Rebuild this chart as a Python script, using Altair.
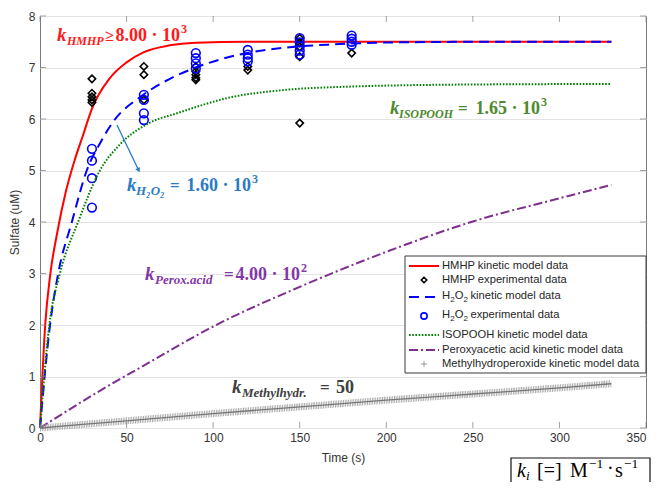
import altair as alt
import pandas as pd

# ---------------- data ----------------
x_ticks = [0, 50, 100, 150, 200, 250, 300, 350]
y_ticks = [0, 1, 2, 3, 4, 5, 6, 7, 8]

hmhp_model_t = [0, 3, 6, 10, 15, 20, 25, 30, 40, 50, 60, 75, 90, 120, 200, 330]
hmhp_model_y = [0, 2.0, 3.0, 3.8, 4.6, 5.2, 5.7, 6.2, 6.78, 7.1, 7.3, 7.43, 7.48, 7.5, 7.5, 7.5]

hmhp_exp_t = [30, 30, 30, 30, 30, 60, 60, 60, 90, 90, 90, 90, 90, 120, 120,
              150, 150, 150, 150, 150, 180]
hmhp_exp_y = [6.78, 6.50, 6.43, 6.37, 6.32, 7.02, 6.86, 6.37, 7.02, 6.92, 6.86, 6.80, 6.76,
              7.02, 6.95, 7.57, 7.48, 7.40, 7.21, 5.92, 7.28]

h2o2_model_t = [0, 5.8, 10.5, 18.4, 27, 35, 43, 58, 75, 90, 115, 140, 170, 210, 260, 330]
h2o2_model_y = [0, 2.0, 3.0, 4.0, 5.0, 5.55, 5.98, 6.43, 6.78, 7.0, 7.25, 7.38, 7.45, 7.49, 7.5, 7.5]

h2o2_exp_t = [30, 30, 30, 30, 60, 60, 60, 60, 90, 90, 90, 90, 120, 120, 120, 120,
              150, 150, 150, 150, 150, 180, 180, 180, 180]
h2o2_exp_y = [5.42, 5.19, 4.85, 4.28, 6.47, 6.37, 6.11, 5.98, 7.28, 7.18, 7.08, 6.98,
              7.34, 7.25, 7.18, 7.12, 7.57, 7.49, 7.41, 7.33, 7.25, 7.62, 7.56, 7.50, 7.44]

isopooh_model_t = [0, 5.4, 11.5, 22, 34.6, 46, 63, 80, 110, 140, 180, 250, 330]
isopooh_model_y = [0, 2.0, 3.0, 4.0, 5.0, 5.5, 5.92, 6.12, 6.42, 6.56, 6.63, 6.67, 6.68]

perox_model_t = [0, 32, 64, 100, 150, 200, 250, 300, 330]
perox_model_y = [0, 0.67, 1.29, 1.97, 2.74, 3.42, 4.01, 4.46, 4.72]

methyl_model_t = [0, 50, 100, 150, 200, 250, 300, 330]
methyl_model_y = [0, 0.14, 0.28, 0.41, 0.54, 0.66, 0.78, 0.86]

legend_labels = ["HMHP kinetic model data", "HMHP experimental data",
                 "kinetic model data", "experimental data",
                 "ISOPOOH kinetic model data", "Peroxyacetic acid kinetic model data",
                 "Methylhydroperoxide kinetic model data"]

# ---------------- layout ----------------
W, H = 606, 412
X0, Y0 = 40, 16           # page position of the plot area


def vx(px):
    return px - X0


def vy(py):
    return py - Y0


FRAME = "#7a7a7a"
TXT = "#333333"
SANS = "Liberation Sans"
SERIF = "Liberation Serif"

xs = alt.Scale(domain=[0, 350], nice=False, zero=False)
ys = alt.Scale(domain=[0, 8], nice=False, zero=False)

x_axis = alt.Axis(values=x_ticks, ticks=False, domain=False, grid=False,
                  labelFont=SANS, labelFontSize=12, labelColor=TXT, labelPadding=4,
                  labelFlush=False,
                  labelAlign=alt.ExprRef("datum.value == 350 ? 'right' : 'center'"),
                  title="Time (s)", titleFont=SANS, titleFontSize=12,
                  titleFontWeight="normal", titleColor=TXT, titlePadding=9)
y_axis = alt.Axis(values=y_ticks, ticks=False, domain=False, grid=True,
                  gridColor="#e4e4e4", gridWidth=1,
                  labelFont=SANS, labelFontSize=12, labelColor=TXT, labelPadding=5,
                  labelFlush=False, title="Sulfate (uM)", titleFont=SANS, titleFontSize=12,
                  titleFontWeight="normal", titleColor=TXT, titlePadding=7)


def X(f):
    return alt.X(f, type="quantitative", scale=xs, axis=x_axis)


def Y(f):
    return alt.Y(f, type="quantitative", scale=ys, axis=y_axis)


def line_layer(t, y, color, width=2.0, dash=None):
    df = pd.DataFrame({"t": t, "y": y})
    kw = dict(color=color, strokeWidth=width, interpolate="monotone")
    if dash is not None:
        kw["strokeDash"] = dash
    return alt.Chart(df).mark_line(**kw).encode(x=X("t"), y=Y("y"), order="t:Q")


def point_layer(t, y, color, shape, size):
    df = pd.DataFrame({"t": t, "y": y})
    return alt.Chart(df).mark_point(shape=shape, filled=False, color=color, size=size,
                                    strokeWidth=1.6, opacity=1).encode(x=X("t"), y=Y("y"))


one = pd.DataFrame({"d": [0]})


def txt(s, px, py, size, color, italic=False, bold=True, font=SERIF, baseline="alphabetic",
        align="left"):
    return alt.Chart(one).mark_text(
        text=s, font=font, fontSize=size, fontWeight="bold" if bold else "normal",
        fontStyle="italic" if italic else "normal", color=color, align=align,
        baseline=baseline).encode(x=alt.value(vx(px)), y=alt.value(vy(py)))


def seg(px1, py1, px2, py2, color, width=1.0, dash=None):
    kw = dict(color=color, strokeWidth=width)
    if dash is not None:
        kw["strokeDash"] = dash
    return alt.Chart(one).mark_rule(**kw).encode(
        x=alt.value(vx(px1)), y=alt.value(vy(py1)), x2=alt.value(vx(px2)), y2=alt.value(vy(py2)))


def sym(px, py, shape, color, size, filled=False, angle=0, sw=1.6):
    kw = dict(shape=shape, color=color, size=size, filled=filled, strokeWidth=sw, opacity=1)
    if angle:
        kw["angle"] = angle
    return alt.Chart(one).mark_point(**kw).encode(x=alt.value(vx(px)), y=alt.value(vy(py)))


def box(px1, py1, px2, py2, fill="white", stroke="#222222", sw=1.0):
    return alt.Chart(one).mark_rect(fill=fill, stroke=stroke, strokeWidth=sw).encode(
        x=alt.value(vx(px1)), y=alt.value(vy(py1)), x2=alt.value(vx(px2)), y2=alt.value(vy(py2)))


NB = "\u00a0"


def k_label(color, kx, base, sub, sub_x, op, op_x, num, num_end, sup=None, sub_size=12.5,
            op_size=17):
    parts = [txt("k", kx, base, 19, color, italic=True),
             txt(sub, sub_x, base + 4, sub_size, color, italic=True),
             txt(op, op_x, base, op_size, color),
             txt(num, num_end, base, 18, color, align="right")]
    if sup is not None:
        parts.append(txt(sup, num_end + 1, base - 8, 12, color))
    return parts


RED = "#ff0000"
BLUE = "#0000ff"
GREEN = "#008000"
PURPLE = "#7e2f8e"
GRAY = "#a0a0a0"

layers = []

# data series (MATLAB plotting order)
layers.append(line_layer(hmhp_model_t, hmhp_model_y, RED, 2.0))
layers.append(point_layer(hmhp_exp_t, hmhp_exp_y, "#000000", "diamond", 55))
layers.append(line_layer(h2o2_model_t, h2o2_model_y, BLUE, 2.0, [10, 6]))
layers.append(point_layer(h2o2_exp_t, h2o2_exp_y, BLUE, "circle", 75))
layers.append(line_layer(isopooh_model_t, isopooh_model_y, GREEN, 2.0, [1.6, 1.6]))
layers.append(line_layer(perox_model_t, perox_model_y, PURPLE, 2.0, [9, 3, 2, 3]))
layers.append(line_layer(methyl_model_t, methyl_model_y, GRAY, 7.0, [0.8, 0.9]))
layers.append(line_layer(methyl_model_t, methyl_model_y, "#777777", 1.3))

# inward ticks on all four sides
xt = pd.DataFrame({"t": x_ticks})
yt = pd.DataFrame({"y": y_ticks})
layers.append(alt.Chart(xt).mark_tick(orient="vertical", color=FRAME, size=6, thickness=1)
              .encode(x=X("t"), y=alt.value(H - 3)))
layers.append(alt.Chart(xt).mark_tick(orient="vertical", color=FRAME, size=6, thickness=1)
              .encode(x=X("t"), y=alt.value(3)))
layers.append(alt.Chart(yt).mark_tick(orient="horizontal", color=FRAME, size=6, thickness=1)
              .encode(y=Y("y"), x=alt.value(3)))
layers.append(alt.Chart(yt).mark_tick(orient="horizontal", color=FRAME, size=6, thickness=1)
              .encode(y=Y("y"), x=alt.value(W - 3)))

# ---------------- annotations ----------------
C_H = "#ff1a1a"
layers += k_label(C_H, 57, 41, "HMHP", 67, "\u2265", 105, "8.00" + NB + "\u00b7" + NB + "10",
                  180, "3", 12, op_size=16)

C_B = "#2b7bc4"
layers += [seg(117, 125, 139, 171, C_B, 1.3),
           sym(138.6, 170.2, "triangle-up", C_B, 28, filled=True, angle=154, sw=0.5)]
layers += k_label(C_B, 127, 191, "H\u2082O\u2082", 136, "=", 170,
                  "1.60" + NB + "\u00b7" + NB + "10", 251, "3", 13)

C_G = "#4e8a2e"
layers += k_label(C_G, 390, 114, "ISOPOOH", 399, "=", 458,
                  "1.65" + NB + "\u00b7" + NB + "10", 540, "3", 12)

C_P = "#8238a6"
layers += k_label(C_P, 145, 280, "Perox.acid", 155, "=", 224,
                  "4.00" + NB + "\u00b7" + NB + "10", 300, "2", 13)

C_M = "#404040"
layers += k_label(C_M, 232, 393, "Methylhydr.", 242, "=", 320, "50", 354, None, 13)

# units box (below the axes, bottom right)
UB = 477
layers += [box(511, 458, 650, 500, fill="white", stroke="#111111", sw=1.2),
           txt("k", 517, UB, 20, "#000000", italic=True, bold=False),
           txt("i", 526, UB + 3, 13.5, "#000000", italic=True, bold=False),
           txt("[=]", 537, UB, 20, "#000000", bold=False),
           txt("M", 570, UB, 20, "#000000", bold=False),
           txt("\u22121", 589, UB - 9, 13.5, "#000000", bold=False),
           txt("\u00b7", 607, UB - 2, 20, "#000000", bold=False),
           txt("s", 615, UB, 20, "#000000", bold=False),
           txt("\u22121", 624, UB - 9, 13.5, "#000000", bold=False)]

# ---------------- legend ----------------
LT = "#262626"
LFS = 11.2
rows = [266, 280, 297, 316, 335, 350, 364]
layers.append(box(405, 256, 646, 373, fill="white", stroke="#3a3a3a", sw=1.0))
layers.append(seg(409, rows[0], 439, rows[0], RED, 2.0))
layers.append(sym(424, rows[1], "diamond", "#000000", 30))
layers.append(seg(409, rows[2], 439, rows[2], BLUE, 2.0, [10, 6]))
layers.append(sym(424, rows[3], "circle", BLUE, 40))
layers.append(seg(409, rows[4], 439, rows[4], GREEN, 2.0, [1.6, 1.6]))
layers.append(seg(409, rows[5], 439, rows[5], PURPLE, 2.0, [9, 3, 2, 3]))
layers.append(sym(424, rows[6], "M-1,0L1,0M0,-1L0,1", "#9a9a9a", 40, sw=1.0))

for i in (0, 1, 4, 5, 6):
    layers.append(txt(legend_labels[i], 442, rows[i], LFS, LT, bold=False, font=SANS,
                      baseline="middle"))
for i in (2, 3):
    r = rows[i] - 1.5
    layers += [txt("H", 442, r, LFS, LT, bold=False, font=SANS, baseline="middle"),
               txt("2", 450.2, r + 4.5, 8, LT, bold=False, font=SANS, baseline="middle"),
               txt("O", 454.8, r, LFS, LT, bold=False, font=SANS, baseline="middle"),
               txt("2", 463.4, r + 4.5, 8, LT, bold=False, font=SANS, baseline="middle"),
               txt(legend_labels[i], 470.5, r, LFS, LT, bold=False, font=SANS,
                   baseline="middle")]

chart = alt.layer(*layers).properties(
    width=W, height=H, autosize="none",
    padding={"left": 32, "top": 8, "right": 5, "bottom": 54},
    background="white",
).configure_view(stroke=FRAME, strokeWidth=1)

chart.save("out.html", embed_options={"renderer": "svg", "actions": False})
